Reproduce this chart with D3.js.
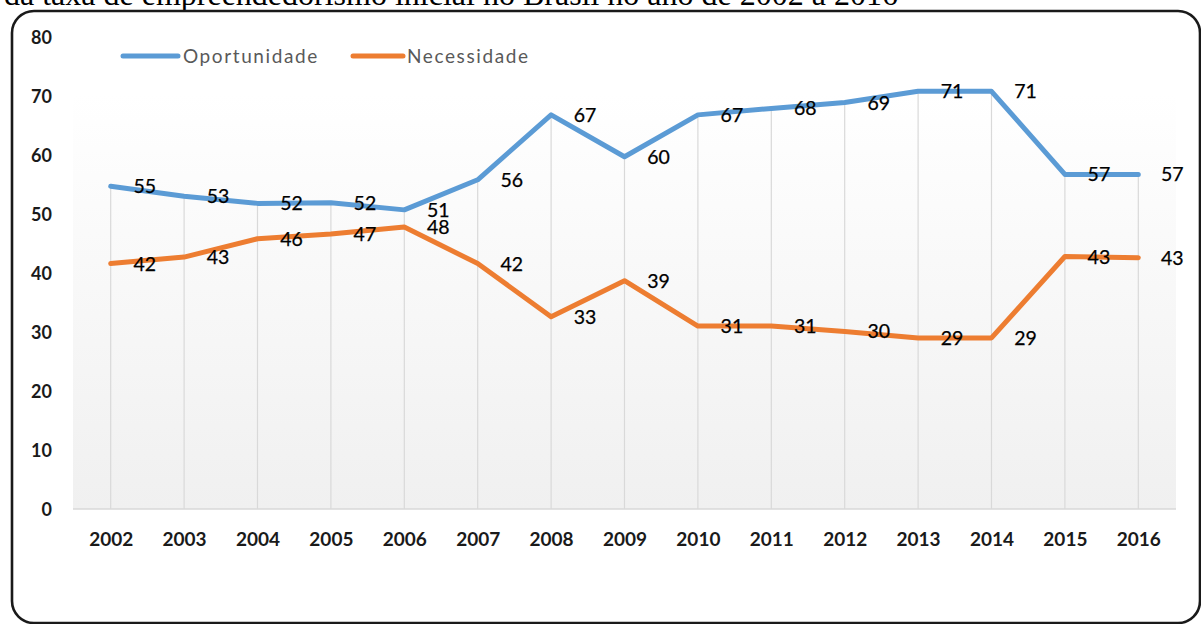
<!DOCTYPE html>
<html>
<head>
<meta charset="utf-8">
<script src="https://cdn.jsdelivr.net/npm/d3@7"></script>
<style>
  html, body { margin: 0; padding: 0; background: #fff; }
  svg { display: block; }
</style>
</head>
<body>
<svg id="chart" width="1201" height="624"></svg>
<script>
// Taxa de empreendedorismo inicial por motivação (%), 2002–2016
const years = ["2002","2003","2004","2005","2006","2007","2008","2009","2010","2011","2012","2013","2014","2015","2016"];
const oportunidade = [54.7, 53.0, 51.8, 51.9, 50.7, 55.8, 66.8, 59.7, 66.8, 67.9, 68.9, 70.8, 70.8, 56.7, 56.7];
const necessidade  = [41.6, 42.7, 45.8, 46.6, 47.8, 41.6, 32.6, 38.7, 31.0, 31.0, 30.1, 29.0, 29.0, 42.8, 42.6];
const yTicks = [0, 10, 20, 30, 40, 50, 60, 70, 80];
const seriesNames = ["Oportunidade", "Necessidade"];
const seriesColors = ["#5b9bd5", "#ed7d31"];

const series = [
  { name: seriesNames[0], color: seriesColors[0], values: oportunidade },
  { name: seriesNames[1], color: seriesColors[1], values: necessidade }
];

const svg = d3.select("#chart");
const font = "Lato, 'Open Sans', sans-serif";

const plot = { left: 74, right: 1175, top: 37, bottom: 509 };

const x = d3.scalePoint().domain(years).range([plot.left, plot.right]).padding(0.5);
const y = d3.scaleLinear().domain([0, 80]).range([plot.bottom, plot.top]);

// Caption line running above the frame
svg.append("text")
  .attr("x", 4).attr("y", 5)
  .attr("font-family", "'Liberation Serif', 'Times New Roman', serif")
  .attr("font-size", 32)
  .attr("fill", "#000")
  .text("da taxa de empreendedorismo inicial no Brasil no ano de 2002 a 2016");

// Plot-area gradient
const defs = svg.append("defs");
const grad = defs.append("linearGradient")
  .attr("id", "plotFill").attr("x1", 0).attr("y1", 0).attr("x2", 0).attr("y2", 1);
grad.append("stop").attr("offset", "0%").attr("stop-color", "#ffffff");
grad.append("stop").attr("offset", "12%").attr("stop-color", "#ffffff");
grad.append("stop").attr("offset", "100%").attr("stop-color", "#f0f0f0");

svg.append("rect")
  .attr("x", plot.left - 1).attr("y", plot.top)
  .attr("width", plot.right - plot.left + 2)
  .attr("height", plot.bottom - plot.top)
  .attr("fill", "url(#plotFill)");

// Drop lines from the highest point of each year to the axis
svg.append("g").selectAll("line")
  .data(years)
  .join("line")
  .attr("x1", d => x(d)).attr("x2", d => x(d))
  .attr("y1", (d, i) => y(d3.max(series, s => s.values[i])))
  .attr("y2", y(0))
  .attr("stroke", "#d9d9d9")
  .attr("stroke-width", 1.2);

// Category axis baseline
svg.append("line")
  .attr("x1", plot.left - 1).attr("x2", plot.right + 1)
  .attr("y1", y(0)).attr("y2", y(0))
  .attr("stroke", "#d9d9d9").attr("stroke-width", 1.5);

// Y axis labels
const yAxis = d3.axisLeft(y).tickValues(yTicks).tickSize(0).tickPadding(0).tickFormat(d3.format("d"));
const gy = svg.append("g").attr("transform", "translate(52,0)").call(yAxis);
gy.select(".domain").remove();
gy.selectAll("text")
  .attr("font-family", font).attr("font-size", 18).attr("font-weight", 700)
  .attr("fill", "#1a1a1a").attr("dy", "0.35em");

// X axis labels
const xAxis = d3.axisBottom(x).tickSize(0).tickPadding(0);
const gx = svg.append("g").attr("transform", `translate(0,${plot.bottom})`).call(xAxis);
gx.select(".domain").remove();
gx.selectAll("text")
  .attr("font-family", font).attr("font-size", 19).attr("font-weight", 700)
  .attr("fill", "#1a1a1a").attr("y", 30).attr("dy", "0.35em");

// Series lines
const line = d3.line().x((d, i) => x(years[i])).y(d => y(d));
svg.append("g").selectAll("path")
  .data(series)
  .join("path")
  .attr("d", s => line(s.values))
  .attr("fill", "none")
  .attr("stroke", s => s.color)
  .attr("stroke-width", 5)
  .attr("stroke-linejoin", "round")
  .attr("stroke-linecap", "round");

// Data labels, placed to the right of each point
const fmt = d3.format(".0f");
series.forEach(s => {
  svg.append("g").selectAll("text")
    .data(s.values)
    .join("text")
    .attr("x", (d, i) => x(years[i]) + 34)
    .attr("y", d => y(d))
    .attr("dy", "0.36em")
    .attr("text-anchor", "middle")
    .attr("font-family", font).attr("font-size", 19.5)
    .attr("fill", "#000")
    .attr("stroke", "#000").attr("stroke-width", 0.25)
    .text(d => fmt(d));
});

// Legend
const legendX = [123, 353];
const legend = svg.append("g").selectAll("g")
  .data(series)
  .join("g")
  .attr("transform", (s, i) => `translate(${legendX[i]},56)`);
legend.append("line")
  .attr("x1", 0).attr("x2", (s, i) => i === 0 ? 55 : 50)
  .attr("stroke", s => s.color).attr("stroke-width", 5).attr("stroke-linecap", "round");
legend.append("text")
  .attr("x", (s, i) => i === 0 ? 60 : 54)
  .attr("dy", "0.36em")
  .attr("font-family", font).attr("font-size", 19)
  .attr("letter-spacing", 1.6)
  .attr("fill", "#595959")
  .text(s => s.name);

// Rounded frame
svg.append("rect")
  .attr("x", 12).attr("y", 11)
  .attr("width", 1188).attr("height", 612)
  .attr("rx", 22).attr("ry", 22)
  .attr("fill", "none")
  .attr("stroke", "#1a1a1a")
  .attr("stroke-width", 2.6);
</script>
</body>
</html>
